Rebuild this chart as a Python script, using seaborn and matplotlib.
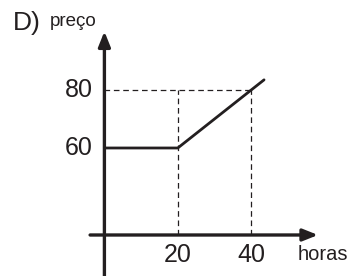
import matplotlib
matplotlib.use("Agg")
import matplotlib.pyplot as plt
import seaborn as sns
import pandas as pd

# data
hours = [0, 20, 43.5]
price = [60, 60, 83.5]
ref_price = 80
ref_hours = [20, 40]
y_ticks = [60, 80]
x_ticks = [20, 40]
x_label = "horas"
y_label = "preço"
panel = "D)"

sns.set_theme(style="white")
plt.rcParams["font.family"] = ["Liberation Sans", "DejaVu Sans"]

fig = plt.figure(figsize=(3.49, 2.76), dpi=100)
ax = fig.add_axes([0, 0, 1, 1])
ax.set_xlim(-28.45, 66.65)
ax.set_ylim(15.86, 111.03)
ax.axis("off")

x_axis_y = 30
ink = "#231f20"

# axes with arrows
ax.annotate("", xy=(58.2, x_axis_y), xytext=(-3.9, x_axis_y),
            arrowprops=dict(arrowstyle="-|>,head_length=0.75,head_width=0.3",
                            lw=2.4, color=ink, shrinkA=0, shrinkB=0))
ax.annotate("", xy=(0, 100.2), xytext=(0, 15.86),
            arrowprops=dict(arrowstyle="-|>,head_length=0.75,head_width=0.3",
                            lw=2.4, color=ink, shrinkA=0, shrinkB=0))

# dashed guides
ax.plot([0, ref_hours[1]], [ref_price, ref_price], ls=(0, (4.5, 3)), lw=0.9, color=ink)
for h in ref_hours:
    ax.plot([h, h], [x_axis_y, ref_price], ls=(0, (4.5, 3)), lw=0.9, color=ink)

# data line
df = pd.DataFrame({"horas": hours, "preco": price})
sns.lineplot(data=df, x="horas", y="preco", ax=ax, color=ink, lw=2.0,
             sort=False, estimator=None)
ax.set_xlabel("")
ax.set_ylabel("")

# tick labels
for v in y_ticks:
    ax.text(-3.2, v, str(v), ha="right", va="center", fontsize=18, color=ink)
for v in x_ticks:
    ax.text(v, 23.2, str(v), ha="center", va="center", fontsize=18, color=ink)

ax.text(52.75, 21.4, x_label, ha="left", va="baseline", fontsize=14.5, color=ink)
ax.text(-15.0, 102.0, y_label, ha="left", va="baseline", fontsize=13.5, color=ink)
ax.text(-25.0, 103.0, panel, ha="left", va="center", fontsize=19, color=ink)

fig.savefig("out.png", dpi=100)
